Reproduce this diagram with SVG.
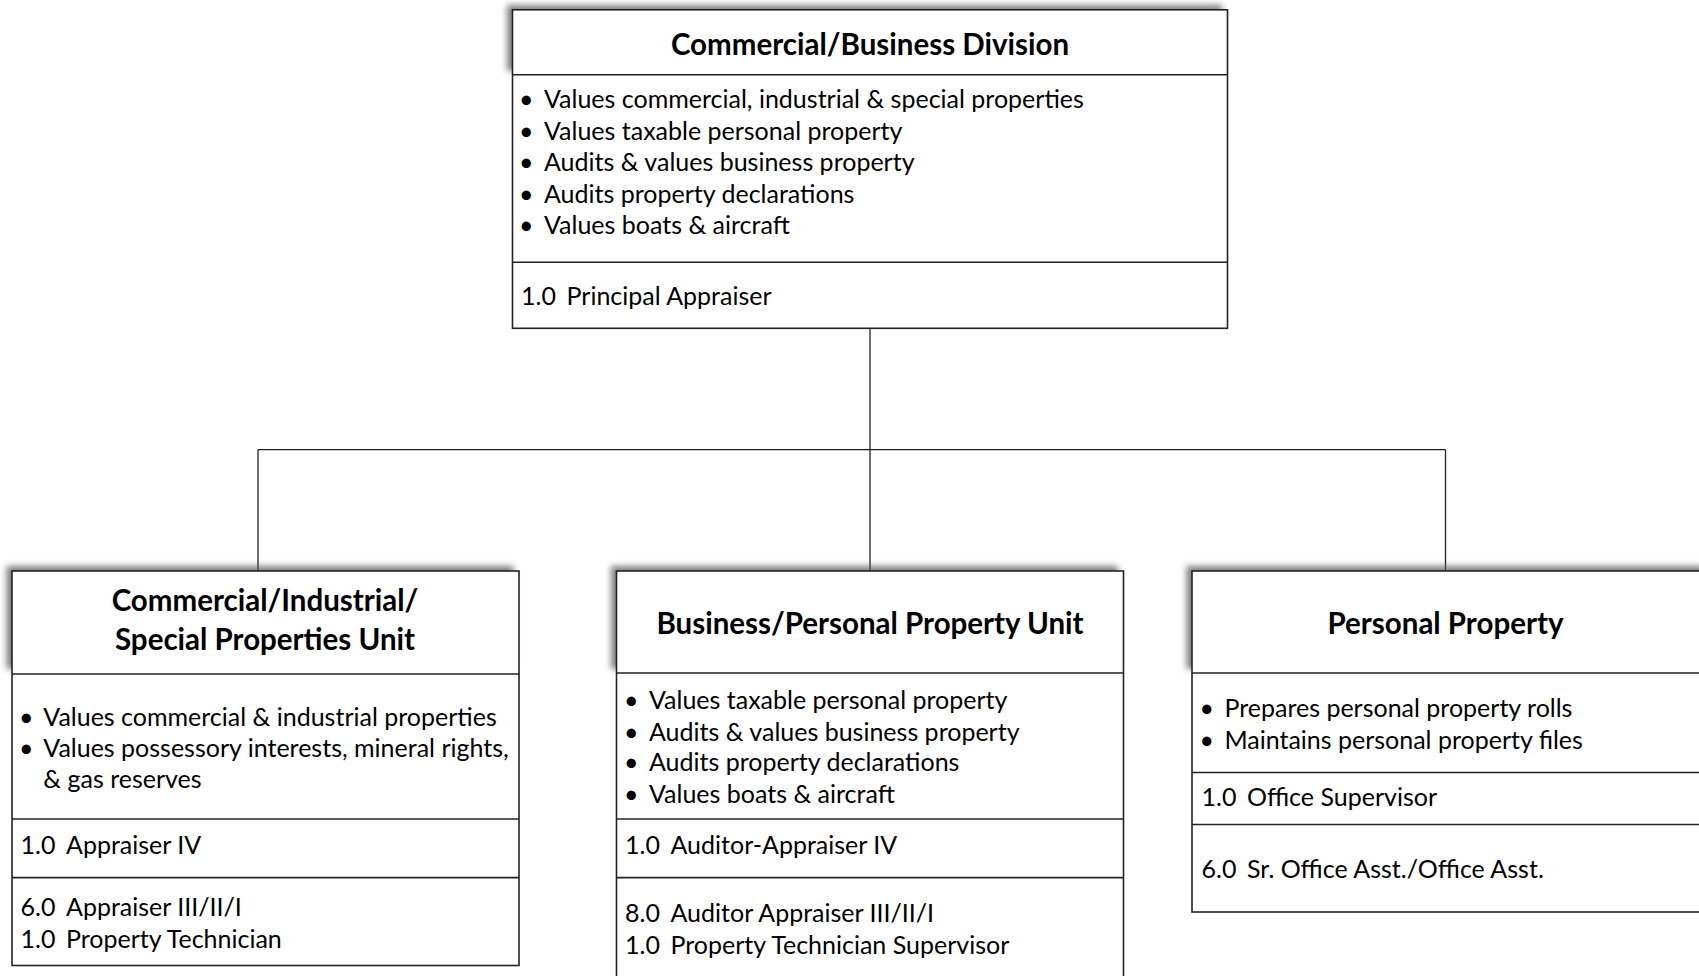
<svg xmlns="http://www.w3.org/2000/svg" width="1699" height="976" viewBox="0 0 1699 976">
<style>
.box{fill:#fff;stroke:#222;stroke-width:1.6}
.div{stroke:#222;stroke-width:1.6}
.conn{stroke:#222;stroke-width:1.3;fill:none}
.t{font-family:Lato,"Liberation Sans",sans-serif;font-weight:bold;font-size:29.5px;fill:#000;text-anchor:middle}
.b{font-family:Lato,"Liberation Sans",sans-serif;font-size:25px;fill:#000}
.sh{fill:#555;opacity:0.75;filter:url(#blur)}
</style>
<defs>
<filter id="blur" x="-10%" y="-30%" width="120%" height="160%"><feGaussianBlur stdDeviation="3"/></filter>
</defs>
<rect width="1699" height="976" fill="#fff"/>
<g id="connectors">
<line class="conn" x1="870" y1="328" x2="870" y2="571"/>
<line class="conn" x1="258" y1="449.7" x2="1445.5" y2="449.7"/>
<line class="conn" x1="258" y1="449.7" x2="258" y2="571"/>
<line class="conn" x1="1445.5" y1="449.7" x2="1445.5" y2="571"/>
</g>
<g id="top">
<rect class="sh" x="507" y="5" width="715" height="66"/>
<rect class="box" x="512.5" y="9.8" width="715" height="318.5"/>
<line class="div" x1="512.5" y1="74.8" x2="1227.5" y2="74.8"/>
<line class="div" x1="512.5" y1="262.2" x2="1227.5" y2="262.2"/>
<text class="t" x="870" y="54.5">Commercial/Business Division</text>
<g class="b">
<text x="519" y="108">•</text><text x="544" y="108">Values commercial, industrial &amp; special properties</text>
<text x="519" y="139.5">•</text><text x="544" y="139.5">Values taxable personal property</text>
<text x="519" y="171">•</text><text x="544" y="171">Audits &amp; values business property</text>
<text x="519" y="202.5">•</text><text x="544" y="202.5">Audits property declarations</text>
<text x="519" y="234">•</text><text x="544" y="234">Values boats &amp; aircraft</text>
<text x="521" y="305">1.0</text><text x="566.5" y="305">Principal Appraiser</text>
</g>
</g>
<g id="left">
<rect class="sh" x="6.5" y="566" width="507" height="103"/>
<rect class="box" x="12" y="571" width="507" height="394.5"/>
<line class="div" x1="12" y1="674" x2="519" y2="674"/>
<line class="div" x1="12" y1="819" x2="519" y2="819"/>
<line class="div" x1="12" y1="877.6" x2="519" y2="877.6"/>
<text class="t" x="265" y="610.5">Commercial/Industrial/</text>
<text class="t" x="265" y="649.5">Special Properties Unit</text>
<g class="b">
<text x="19" y="726">•</text><text x="43.3" y="726">Values commercial &amp; industrial properties</text>
<text x="19" y="757">•</text><text x="43.3" y="757">Values possessory interests, mineral rights,</text>
<text x="43.3" y="787.5">&amp; gas reserves</text>
<text x="20.6" y="853.5">1.0</text><text x="66" y="853.5">Appraiser IV</text>
<text x="20.6" y="915.5">6.0</text><text x="66" y="915.5">Appraiser III/II/I</text>
<text x="20.6" y="948">1.0</text><text x="66" y="948">Property Technician</text>
</g>
</g>
<g id="middle">
<rect class="sh" x="611" y="566" width="507" height="103"/>
<rect class="box" x="616.5" y="571" width="507" height="420"/>
<line class="div" x1="616.5" y1="673" x2="1123.5" y2="673"/>
<line class="div" x1="616.5" y1="819" x2="1123.5" y2="819"/>
<line class="div" x1="616.5" y1="877.6" x2="1123.5" y2="877.6"/>
<text class="t" x="870" y="634">Business/Personal Property Unit</text>
<g class="b">
<text x="624" y="708.5">•</text><text x="649" y="708.5">Values taxable personal property</text>
<text x="624" y="741">•</text><text x="649" y="741">Audits &amp; values business property</text>
<text x="624" y="771.3">•</text><text x="649" y="771.3">Audits property declarations</text>
<text x="624" y="802.7">•</text><text x="649" y="802.7">Values boats &amp; aircraft</text>
<text x="625" y="853.5">1.0</text><text x="670.5" y="853.5">Auditor-Appraiser IV</text>
<text x="625" y="922">8.0</text><text x="670.5" y="922">Auditor Appraiser III/II/I</text>
<text x="625" y="954.4">1.0</text><text x="670.5" y="954.4">Property Technician Supervisor</text>
</g>
</g>
<g id="right">
<rect class="sh" x="1186.5" y="566" width="520" height="103"/>
<rect class="box" x="1192" y="571" width="520" height="341"/>
<line class="div" x1="1192" y1="673" x2="1712" y2="673"/>
<line class="div" x1="1192" y1="772.5" x2="1712" y2="772.5"/>
<line class="div" x1="1192" y1="824.5" x2="1712" y2="824.5"/>
<text class="t" x="1445.5" y="634">Personal Property</text>
<g class="b">
<text x="1199.5" y="717">•</text><text x="1224.4" y="717">Prepares personal property rolls</text>
<text x="1199.5" y="748.5">•</text><text x="1224.4" y="748.5">Maintains personal property files</text>
<text x="1201.6" y="806">1.0</text><text x="1247" y="806">Office Supervisor</text>
<text x="1201.6" y="877.5">6.0</text><text x="1247" y="877.5">Sr. Office Asst./Office Asst.</text>
</g>
</g>
</svg>
